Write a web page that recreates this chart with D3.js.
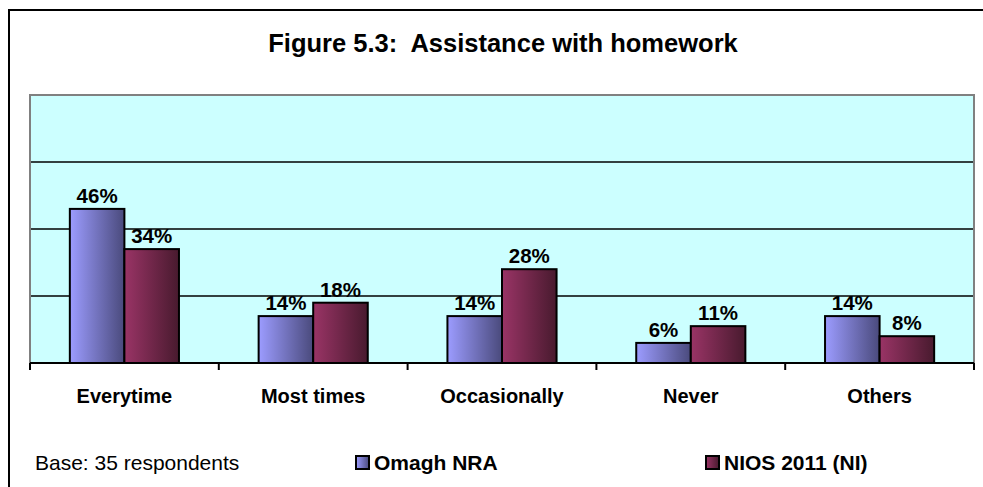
<!DOCTYPE html>
<html><head><meta charset="utf-8">
<script src="https://cdn.jsdelivr.net/npm/d3@7"></script>
<style>html,body{margin:0;padding:0;background:#fff;}svg{display:block;font-family:"Liberation Sans",Arial,sans-serif;}text{white-space:pre;}</style>
</head><body>
<script>
const categories = ["Everytime","Most times","Occasionally","Never","Others"];
const seriesNames = ["Omagh NRA","NIOS 2011 (NI)"];
const omagh = [46,14,14,6,14];
const nios = [34,18,28,11,8];
const yTicks = [0,20,40,60,80];
const title = "Figure 5.3:  Assistance with homework";
const baseNote = "Base: 35 respondents";

const W = 983, H = 487;
const svg = d3.select("body").append("svg").attr("width", W).attr("height", H);
const defs = svg.append("defs");
const grads = [["g0","#9c9cff","#4a4a7c"],["g1","#9a3466","#481a2e"]];
grads.forEach(([id,a,b])=>{
  const g = defs.append("linearGradient").attr("id",id).attr("x1","0").attr("x2","1").attr("y1","0").attr("y2","0");
  g.append("stop").attr("offset","0%").attr("stop-color",a);
  g.append("stop").attr("offset","100%").attr("stop-color",b);
});

// outer frame
svg.append("path").attr("d","M9,487V10H983").attr("fill","none").attr("stroke","#000").attr("stroke-width",2);

const plot = {l:30, r:974, t:95, b:363};
const x0 = d3.scaleBand().domain(categories).range([plot.l, plot.r]).padding(0);
const bw = x0.bandwidth();
const x1 = d3.scaleBand().domain(seriesNames).range([bw*0.211, bw*0.789]).padding(0);
const y = d3.scaleLinear().domain([0,80]).range([plot.b, plot.t]);

svg.append("rect").attr("x",plot.l).attr("y",plot.t).attr("width",plot.r-plot.l).attr("height",plot.b-plot.t).attr("fill","#ccffff");
// gridlines
svg.append("g").selectAll("line").data(yTicks.filter(t=>t>0&&t<80)).join("line")
  .attr("x1",plot.l).attr("x2",plot.r).attr("y1",d=>y(d)).attr("y2",d=>y(d))
  .attr("stroke","#000").attr("stroke-width",1.5);
// gray border top/left/right
svg.append("path").attr("d",`M${plot.l},${plot.b}V${y(80)}H${plot.r}V${plot.b}`).attr("fill","none").attr("stroke","#808080").attr("stroke-width",2);

const data = categories.map((c,i)=>({cat:c, vals:[omagh[i], nios[i]]}));
const groups = svg.append("g").selectAll("g").data(data).join("g").attr("transform",d=>`translate(${x0(d.cat)},0)`);
groups.selectAll("rect").data(d=>d.vals.map((v,j)=>({v, s:seriesNames[j], j}))).join("rect")
  .attr("x",d=>x1(d.s)).attr("width",x1.bandwidth())
  .attr("y",d=>y(d.v)).attr("height",d=>y(0)-y(d.v))
  .attr("fill",d=>`url(#g${d.j})`).attr("stroke","#000").attr("stroke-width",2);
groups.selectAll("text").data(d=>d.vals.map((v,j)=>({v, s:seriesNames[j], j}))).join("text")
  .attr("x",d=>x1(d.s)+x1.bandwidth()/2).attr("y",d=>y(d.v)-6)
  .attr("text-anchor","middle").attr("font-size",20.5).attr("font-weight","bold").text(d=>d.v+"%");

// x axis
const xAxis = svg.append("g");
xAxis.append("line").attr("x1",plot.l).attr("x2",plot.r).attr("y1",plot.b).attr("y2",plot.b).attr("stroke","#000").attr("stroke-width",2);
const tickPos = categories.map(c=>x0(c)).concat([plot.r]);
xAxis.selectAll(".tk").data(tickPos).join("line").attr("class","tk")
  .attr("x1",d=>d).attr("x2",d=>d).attr("y1",plot.b).attr("y2",plot.b+7).attr("stroke","#000").attr("stroke-width",2);
xAxis.selectAll("text").data(categories).join("text")
  .attr("x",d=>x0(d)+bw/2).attr("y",403).attr("text-anchor","middle")
  .attr("font-size",20).attr("font-weight","bold").text(d=>d);

// title
svg.append("text").attr("x",503).attr("y",52).attr("text-anchor","middle").attr("font-size",25.5).attr("font-weight","bold").text(title);

// footer
svg.append("text").attr("x",35).attr("y",470).attr("font-size",21).text(baseNote);
const legX = [356, 706];
seriesNames.forEach((s,j)=>{
  svg.append("rect").attr("x",legX[j]).attr("y",456).attr("width",13).attr("height",13)
    .attr("fill",`url(#g${j})`).attr("stroke","#000").attr("stroke-width",2);
  svg.append("text").attr("x",legX[j]+18).attr("y",470).attr("font-size",21).attr("font-weight","bold").text(s);
});
</script>
</body></html>
